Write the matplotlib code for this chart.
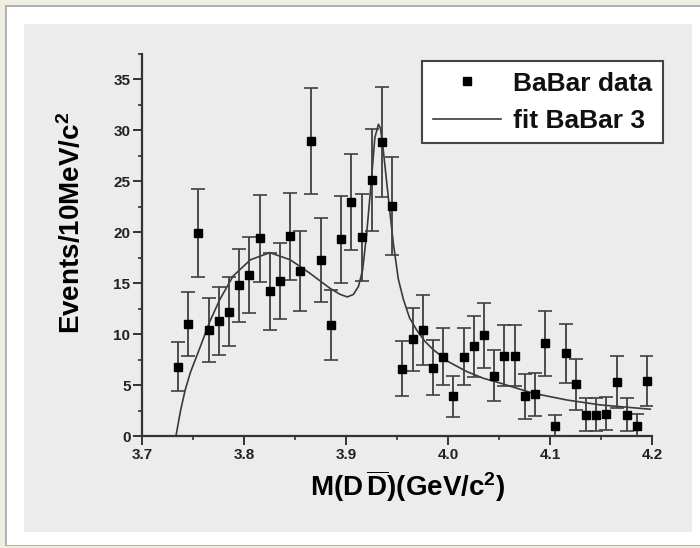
import numpy as np
import matplotlib
matplotlib.use("Agg")
import matplotlib.pyplot as plt
from matplotlib.patches import Rectangle
from matplotlib.lines import Line2D
from matplotlib.ticker import MultipleLocator

plt.rcParams['font.family'] = ['Liberation Sans', 'DejaVu Sans']
plt.rcParams['mathtext.fontset'] = 'custom'
plt.rcParams['mathtext.rm'] = 'Liberation Sans:bold'
plt.rcParams['mathtext.bf'] = 'Liberation Sans:bold'
plt.rcParams['mathtext.it'] = 'Liberation Sans:bold'

# BaBar data points (bin centres, events per 10 MeV, error)
mass = [3.735, 3.745, 3.755, 3.765, 3.775, 3.785, 3.795, 3.805, 3.815, 3.825,
        3.835, 3.845, 3.855, 3.865, 3.875, 3.885, 3.895, 3.905, 3.915, 3.925,
        3.935, 3.945, 3.955, 3.965, 3.975, 3.985, 3.995, 4.005, 4.015, 4.025,
        4.035, 4.045, 4.055, 4.065, 4.075, 4.085, 4.095, 4.105, 4.115, 4.125,
        4.135, 4.145, 4.155, 4.165, 4.175, 4.185, 4.195]
events = [6.8, 11.0, 19.9, 10.4, 11.3, 12.2, 14.8, 15.8, 19.4, 14.2,
          15.2, 19.6, 16.2, 29.0, 17.3, 10.9, 19.3, 23.0, 19.5, 25.1,
          28.9, 22.6, 6.6, 9.5, 10.4, 6.7, 7.8, 3.9, 7.8, 8.8,
          9.9, 5.9, 7.9, 7.9, 3.9, 4.1, 9.1, 1.0, 8.1, 5.1,
          2.1, 2.1, 2.2, 5.3, 2.1, 1.0, 5.4]
errors = [2.4, 3.1, 4.3, 3.1, 3.3, 3.4, 3.6, 3.7, 4.3, 3.8,
          3.7, 4.3, 3.9, 5.2, 4.1, 3.4, 4.3, 4.7, 4.3, 5.0,
          5.4, 4.8, 2.7, 3.1, 3.4, 2.7, 2.8, 2.0, 2.8, 3.0,
          3.2, 2.5, 3.0, 3.0, 2.2, 2.1, 3.2, 1.1, 2.9, 2.5,
          1.6, 1.6, 1.6, 2.6, 1.6, 1.2, 2.5]

# fit curve
fit_x = [3.733, 3.7375, 3.742, 3.747, 3.757, 3.766, 3.776, 3.789, 3.806, 3.825,
         3.845, 3.864, 3.884, 3.894, 3.901, 3.907, 3.912, 3.916, 3.920, 3.9245,
         3.928, 3.9315, 3.9335, 3.936, 3.941, 3.946, 3.951, 3.956, 3.962, 3.969,
         3.977, 3.985, 4.000, 4.018, 4.034, 4.051, 4.083, 4.116, 4.149, 4.198]
fit_y = [0.0, 2.5, 4.5, 6.2, 8.8, 11.2, 13.4, 15.7, 17.3, 18.0,
         17.3, 16.0, 14.5, 13.9, 13.65, 13.9, 14.7, 16.3, 19.9, 25.0,
         29.3, 30.6, 30.2, 28.3, 23.6, 19.0, 15.4, 13.4, 11.6, 10.4,
         9.3, 8.5, 7.3, 6.33, 5.68, 5.19, 4.2, 3.54, 3.05, 2.63]

W, H = 700, 548
fig = plt.figure(figsize=(W / 100, H / 100), dpi=100)
fig.patch.set_facecolor('#efeedf')

# white frame with thin shadow, then grey panel
fig.add_artist(Rectangle((5 / W, 2 / H), 1, 1 - 7 / H, transform=fig.transFigure,
                         facecolor='#b0b0b0', edgecolor='none', zorder=0))
fig.add_artist(Rectangle((7 / W, 3 / H), 1, 1 - 10 / H, transform=fig.transFigure,
                         facecolor='white', edgecolor='none', zorder=0))
fig.add_artist(Rectangle((24 / W, 16 / H), 668 / W, 508 / H, transform=fig.transFigure,
                         facecolor='#ececec', edgecolor='none', zorder=0))

ax = fig.add_axes([142.3 / W, 1 - 436 / H, 510 / W, 382 / H])
ax.set_facecolor('none')

ax.errorbar(mass, events, yerr=errors, fmt='s', color='black', markersize=5.3,
            ecolor='#404040', elinewidth=1.3, capsize=5, capthick=1.2, zorder=3)
ax.plot(fit_x, fit_y, color='#3a3a3a', linewidth=1.2, zorder=2)

ax.set_xlim(3.7, 4.2)
ax.set_ylim(0, 37.5)
ax.xaxis.set_minor_locator(MultipleLocator(0.05))
ax.yaxis.set_major_locator(MultipleLocator(5))
ax.yaxis.set_minor_locator(MultipleLocator(2.5))
ax.set_xticks([3.7, 3.8, 3.9, 4.0, 4.1, 4.2])
ax.set_xticklabels(['3.7', '3.8', '3.9', '4.0', '4.1', '4.2'])

for side in ['top', 'right']:
    ax.spines[side].set_visible(False)
for side in ['left', 'bottom']:
    ax.spines[side].set_linewidth(1.6)
    ax.spines[side].set_color('#333333')

ax.tick_params(which='major', direction='out', length=6.5, width=1.4,
               color='#333333', labelsize=11, pad=2)
ax.tick_params(which='minor', direction='out', length=3.2, width=1.2, color='#333333')
for lbl in ax.get_xticklabels() + ax.get_yticklabels():
    lbl.set_fontweight('bold')
    lbl.set_color('#222222')

# bar only over the second D
ax.set_xlabel(r'$\mathrm{M(D}\,\overline{\mathrm{D}}\mathrm{)(GeV/c^{2})}$', fontsize=20)
ax.set_ylabel(r'Events/10MeV/c$^{2}$', fontsize=20, fontweight='bold')
ax.xaxis.set_label_coords(0.521, -0.083)
ax.yaxis.set_label_coords(-0.11, 0.558)

# legend: data marker first, then fit line
handles = [Line2D([], [], marker='s', linestyle='none', color='black', markersize=5.3),
           Line2D([], [], color='#3a3a3a', linewidth=1.2)]
leg = ax.legend(handles, ['BaBar data', 'fit BaBar 3'], loc='upper right',
                bbox_to_anchor=(663 / W, 1 - 61 / H), bbox_transform=fig.transFigure,
                borderaxespad=0, prop={'weight': 'bold', 'size': 19}, fancybox=False,
                edgecolor='#444444', framealpha=1, handlelength=2.6,
                handletextpad=0.45, labelspacing=0.5, borderpad=0.4)
leg.get_frame().set_linewidth(1.5)
for t in leg.get_texts():
    t.set_color('#111111')

fig.savefig('out.png', dpi=100, facecolor=fig.get_facecolor())
